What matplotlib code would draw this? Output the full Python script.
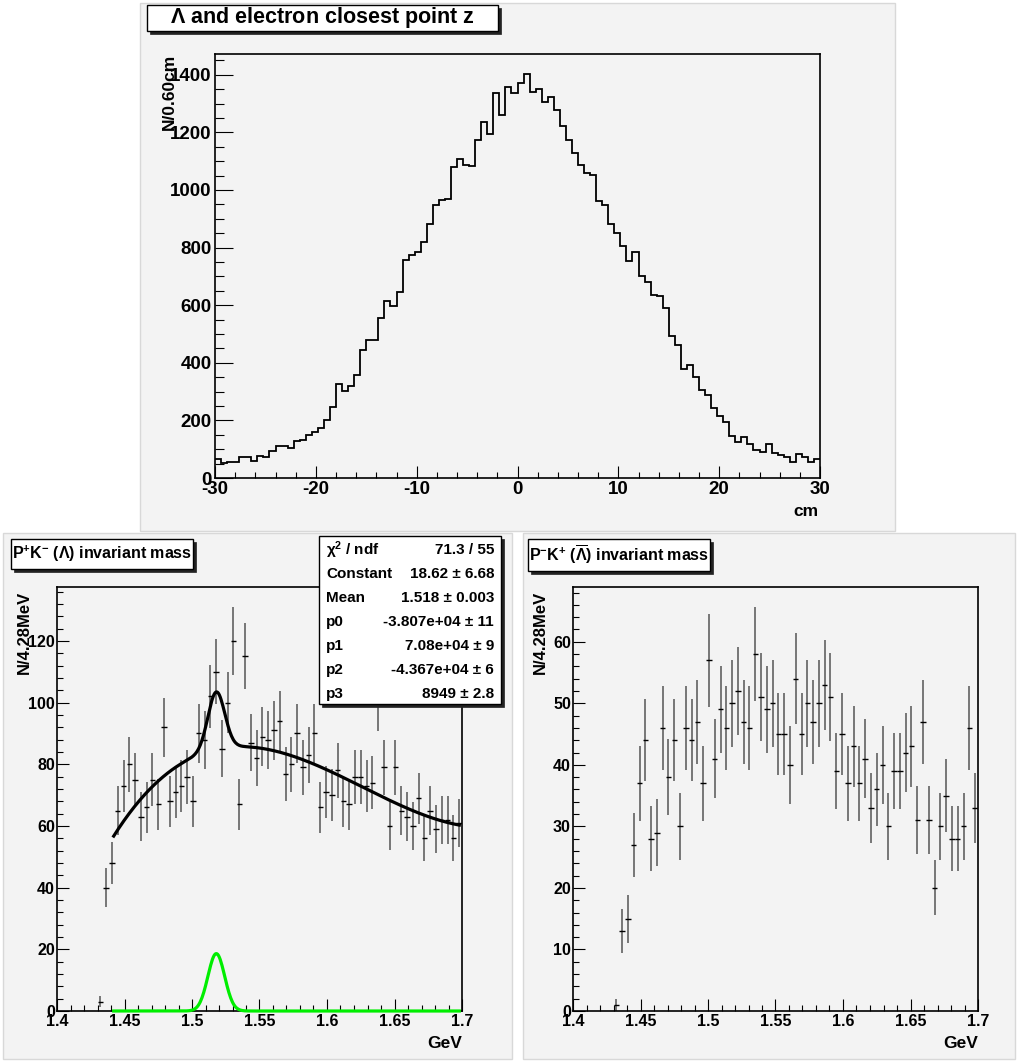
import numpy as np
import matplotlib
matplotlib.use('Agg')
import matplotlib.pyplot as plt
from matplotlib.patches import Rectangle
from matplotlib.ticker import MultipleLocator, FormatStrFormatter

W, H = 1017, 1061
plt.rcParams['font.family'] = ['Liberation Sans', 'DejaVu Sans']
plt.rcParams['font.weight'] = 'bold'
plt.rcParams['mathtext.default'] = 'regular'
plt.rcParams['axes.unicode_minus'] = False

# --- data -----------------------------------------------------------
# closest point z, 100 bins of 0.6 cm
z_lo, z_hi, z_nbins = -30.0, 30.0, 100
z_counts = [66, 51, 54, 54, 73, 73, 60, 76, 73, 93,
            112, 112, 103, 127, 131, 148, 159, 174, 200, 248,
            325, 301, 319, 358, 444, 480, 480, 554, 616, 597,
            645, 756, 773, 785, 819, 881, 949, 964, 969, 1080,
            1108, 1088, 1084, 1175, 1237, 1193, 1336, 1259, 1359, 1336,
            1370, 1402, 1340, 1351, 1304, 1322, 1279, 1223, 1174, 1128,
            1086, 1059, 1052, 961, 948, 881, 850, 806, 752, 785,
            703, 681, 634, 631, 590, 494, 463, 378, 394, 350,
            306, 289, 243, 216, 193, 145, 126, 142, 118, 98,
            89, 118, 87, 79, 72, 57, 83, 72, 56, 66]

# invariant mass, 70 bins of 4.28 MeV (first 7 bins empty)
m_lo, m_hi, m_nbins = 1.4, 1.7, 70
lam_counts = [0] * 7 + [3, 40, 48, 65, 73, 80, 75, 63, 66, 75,
                        67, 92, 68, 71, 73, 76, 68, 90, 88, 102,
                        110, 85, 100, 120, 67, 115, 87, 82, 89, 88,
                        91, 94, 77, 80, 90, 79, 83, 90, 66, 71,
                        70, 78, 68, 67, 76, 76, 73, 74, 101, 79,
                        60, 79, 65, 63, 60, 69, 56, 65, 59, 62,
                        62, 56, 61]
alam_counts = [0] * 7 + [1, 13, 15, 27, 37, 44, 28, 29, 46, 38,
                         44, 30, 46, 44, 47, 37, 57, 41, 49, 46,
                         50, 52, 47, 46, 58, 51, 49, 50, 45, 45,
                         40, 54, 45, 50, 47, 50, 53, 51, 39, 45,
                         37, 43, 37, 41, 33, 36, 40, 30, 39, 39,
                         42, 43, 31, 47, 31, 20, 30, 35, 28, 28,
                         30, 46, 33]

# gaus + pol3 fit
fit_const, fit_mean, fit_sigma = 18.62, 1.518, 0.0062
fit_pol = [-38073.47, 70799.68, -43666.0, 8949.5]
fit_lo, fit_hi = 1.442, 1.698
stats_names = [r'$\chi^{2}$ / ndf', 'Constant', 'Mean', 'p0', 'p1', 'p2', 'p3']
stats_vals = ['71.3 / 55', '18.62 \u00b1 6.68', '1.518 \u00b1 0.003',
              '-3.807e+04 \u00b1 11', '7.08e+04 \u00b1 9',
              '-4.367e+04 \u00b1 6', '8949 \u00b1 2.8']

PAD = '#f3f3f3'


def fx(px):
    return px / W


def fy(py):
    return 1 - py / H


def box(fig, x0, y0, x1, y1, face, edge, lw=1.0, z=0):
    r = Rectangle((fx(x0), fy(y1)), fx(x1) - fx(x0), fy(y0) - fy(y1),
                  transform=fig.transFigure, facecolor=face, edgecolor=edge,
                  linewidth=lw, zorder=z)
    fig.add_artist(r)


def shadow_box(fig, x0, y0, x1, y1):
    box(fig, x0 + 3, y0 + 3, x1 + 3, y1 + 3, '#222222', '#222222', 0.5, z=5)
    box(fig, x0, y0, x1, y1, 'white', 'black', 1.0, z=6)


def make_axes(fig, x0, y0, x1, y1, lsize):
    ax = fig.add_axes([fx(x0), fy(y1), fx(x1) - fx(x0), fy(y0) - fy(y1)])
    ax.set_facecolor(PAD)
    for s in ax.spines.values():
        s.set_linewidth(1.2)
    ax.tick_params(which='both', direction='in', top=False, right=False,
                   width=0.8, labelsize=lsize)
    return ax


fig = plt.figure(figsize=(W / 100, H / 100), dpi=100)

# pads
box(fig, 140, 3, 895, 531, PAD, '#d8d8d8', 1.0, z=-1)
box(fig, 3, 533, 512, 1059, PAD, '#d8d8d8', 1.0, z=-1)
box(fig, 523, 533, 1015, 1059, PAD, '#d8d8d8', 1.0, z=-1)

# ---- top: z histogram ----
ax = make_axes(fig, 215, 54, 820, 478, 13.5)
edges = np.linspace(z_lo, z_hi, z_nbins + 1)
ax.stairs(z_counts, edges, color='black', linewidth=1.3, baseline=None)
ax.set_xlim(z_lo, z_hi)
ax.set_ylim(0, max(z_counts) * 1.05)
ax.xaxis.set_major_locator(MultipleLocator(10))
ax.xaxis.set_minor_locator(MultipleLocator(2))
ax.yaxis.set_major_locator(MultipleLocator(200))
ax.yaxis.set_minor_locator(MultipleLocator(50))
ax.tick_params(axis='y', which='major', length=13, pad=2.5)
ax.tick_params(axis='y', which='minor', length=6.5)
ax.tick_params(axis='x', which='major', length=9, pad=2)
ax.tick_params(axis='x', which='minor', length=4.5)
fig.text(fx(169), fy(54), 'N/0.60cm', rotation=90, ha='center', va='top',
         fontsize=12.5)
fig.text(fx(819), fy(512), 'cm', ha='right', va='center', fontsize=12.5)
shadow_box(fig, 147, 5, 498, 31)
fig.text(fx(322), fy(18), r'$\Lambda$ and electron closest point z',
         ha='center', va='center', fontsize=15.5, zorder=7)

# ---- bottom panels ----
bw = (m_hi - m_lo) / m_nbins
centers = m_lo + (np.arange(m_nbins) + 0.5) * bw


def mass_panel(x0, x1, counts, title, title_box):
    ax = make_axes(fig, x0, 587, x1, 1011, 11.5)
    c = np.array(counts, dtype=float)
    ok = c > 0
    err = np.sqrt(c)
    ax.errorbar(centers[ok], c[ok], yerr=err[ok], fmt='none',
                ecolor='#555555', elinewidth=1.1, capsize=0)
    ax.errorbar(centers[ok], c[ok], xerr=bw / 2 * 0.95, fmt='none',
                ecolor='black', elinewidth=1.0, capsize=0)
    ax.set_xlim(m_lo, m_hi)
    ax.set_ylim(0, np.max(c + err) * 1.05)
    ax.xaxis.set_major_locator(MultipleLocator(0.05))
    ax.xaxis.set_minor_locator(MultipleLocator(0.01))
    ax.xaxis.set_major_formatter(FormatStrFormatter('%g'))
    ax.tick_params(which='major', length=8.7, pad=2)
    ax.tick_params(which='minor', length=4.3)
    ax.tick_params(axis='y', pad=1.5)
    fig.text(fx(x0 - 33), fy(591), 'N/4.28MeV', rotation=90, ha='center',
             va='top', fontsize=12)
    fig.text(fx(x1), fy(1044), 'GeV', ha='right', va='center', fontsize=12.5)
    bx0, by0, bx1, by1 = title_box
    shadow_box(fig, bx0, by0, bx1, by1)
    fig.text(fx((bx0 + bx1) / 2), fy((by0 + by1) / 2), title,
             ha='center', va='center', fontsize=11.5, zorder=7)
    return ax


axl = mass_panel(57, 462, lam_counts,
                 r'P$^{+}$K$^{-}$ ($\Lambda$) invariant mass', (11, 539, 193, 569))
axl.yaxis.set_major_locator(MultipleLocator(20))
axl.yaxis.set_minor_locator(MultipleLocator(4))

xf = np.linspace(fit_lo, fit_hi, 400)
gaus = fit_const * np.exp(-0.5 * ((xf - fit_mean) / fit_sigma) ** 2)
pol = fit_pol[0] + fit_pol[1] * xf + fit_pol[2] * xf ** 2 + fit_pol[3] * xf ** 3
axl.plot(xf, gaus + pol, color='black', linewidth=2.3, zorder=4)
axl.plot(xf, gaus, color='#00ee00', linewidth=2.3, zorder=5, clip_on=False)

# stats box
shadow_box(fig, 319, 536, 501, 704)
for i, (nm, vl) in enumerate(zip(stats_names, stats_vals)):
    yy = 550 + i * 24
    fig.text(fx(326), fy(yy), nm, ha='left', va='center', fontsize=11, zorder=7)
    fig.text(fx(494), fy(yy), vl, ha='right', va='center', fontsize=11, zorder=7)

axr = mass_panel(573, 978, alam_counts,
                 r'P$^{-}$K$^{+}$ ($\overline{\Lambda}$) invariant mass', (528, 539, 710, 571))
axr.yaxis.set_major_locator(MultipleLocator(10))
axr.yaxis.set_minor_locator(MultipleLocator(2))

fig.savefig('out.png', dpi=100, facecolor='white')
